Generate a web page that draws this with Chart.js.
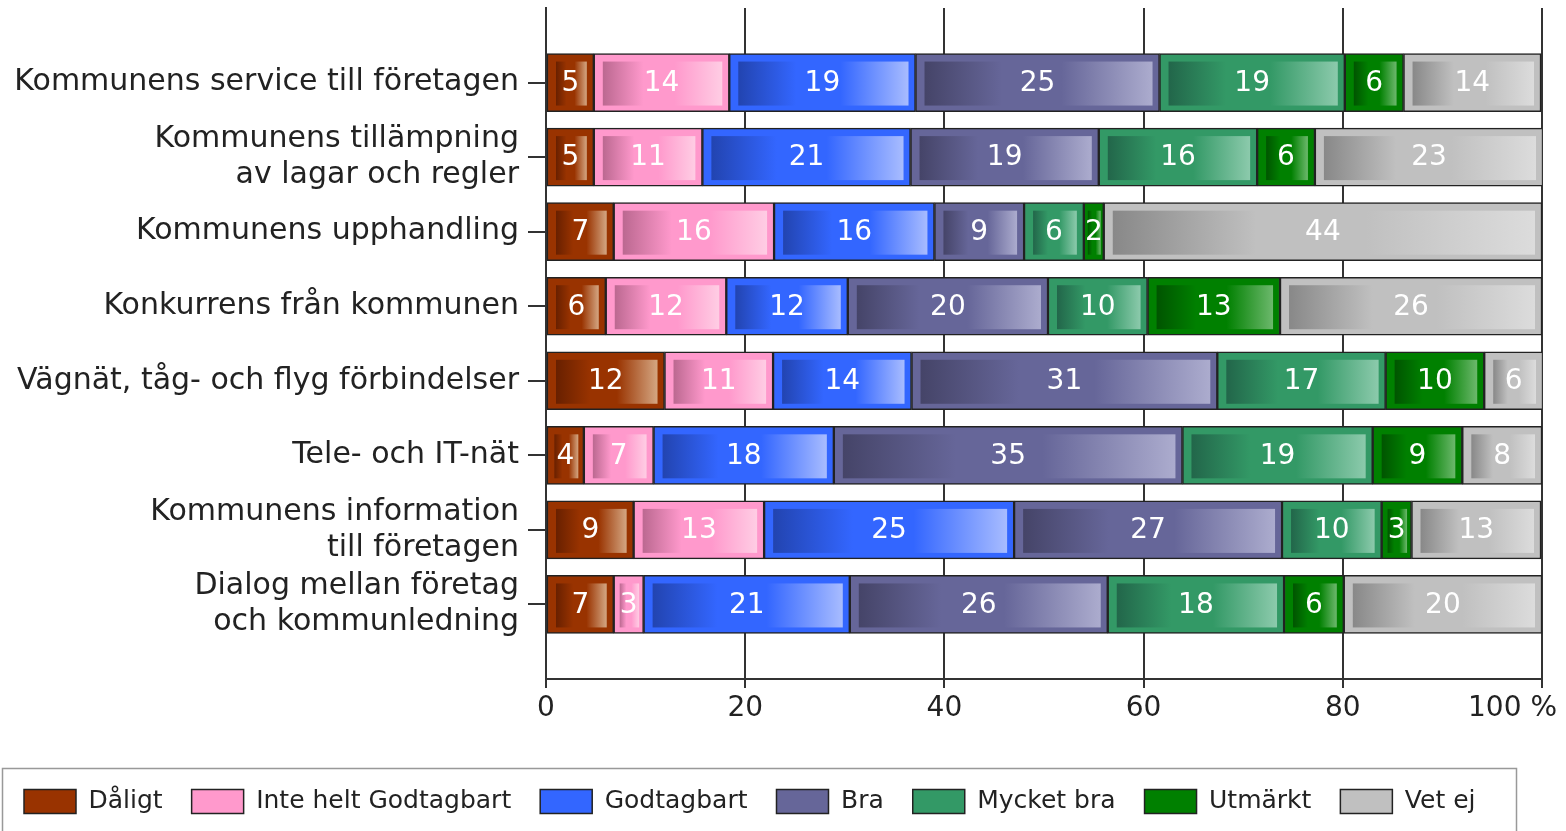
<!DOCTYPE html>
<html>
<head>
<meta charset="utf-8">
<title>Bedömning av kommunen</title>
<script src="https://cdn.jsdelivr.net/npm/chart.js@4.4.1/dist/chart.umd.min.js"></script>
<style>
  html, body { margin: 0; padding: 0; background: #fff; }
  canvas { display: block; }
</style>
</head>
<body>
<canvas id="chart" width="1566" height="831"></canvas>
<script>
const categories = [
  'Kommunens service till företagen',
  ['Kommunens tillämpning', 'av lagar och regler'],
  'Kommunens upphandling',
  'Konkurrens från kommunen',
  'Vägnät, tåg- och flyg förbindelser',
  'Tele- och IT-nät',
  ['Kommunens information', 'till företagen'],
  ['Dialog mellan företag', 'och kommunledning']
];

// percent per category (labels are rounded)
const daligt     = [4.8, 4.8, 6.8, 6.0, 11.9, 3.8, 8.8, 6.8];
const inteHelt   = [13.6, 10.9, 16.1, 12.1, 10.9, 7.0, 13.1, 3.0];
const godtagbart = [18.7, 20.9, 16.1, 12.2, 13.9, 18.1, 25.1, 20.7];
const bra        = [24.5, 18.9, 9.0, 20.1, 30.7, 35.0, 26.9, 25.9];
const mycketBra  = [18.6, 15.9, 6.0, 10.0, 16.9, 19.1, 10.0, 17.7];
const utmarkt    = [5.9, 5.8, 2.0, 13.3, 9.9, 9.0, 3.0, 6.0];
const vetEj      = [13.8, 22.9, 44.0, 26.3, 5.9, 8.0, 13.0, 19.9];

const seriesNames = ['Dåligt', 'Inte helt Godtagbart', 'Godtagbart', 'Bra', 'Mycket bra', 'Utmärkt', 'Vet ej'];
const seriesValues = [daligt, inteHelt, godtagbart, bra, mycketBra, utmarkt, vetEj];

const xTicks = [0, 20, 40, 60, 80, 100];

const baseColors  = ['#993300', '#ff99cc', '#3366ff', '#666699', '#339966', '#008000', '#c0c0c0'];
const darkColors  = ['#682000', '#bb6890', '#2244b0', '#454468', '#22664a', '#005400', '#888888'];
const lightColors = ['#d4a682', '#ffcde4', '#a8bcff', '#acacce', '#8ccaac', '#6cb86c', '#dcdcdc'];

const FONT = "'DejaVu Sans', 'Noto Sans', sans-serif";

// inner shaded panel + value label on every bar segment
const barFaces = {
  id: 'barFaces',
  afterDatasetsDraw(chart) {
    const ctx = chart.ctx;
    ctx.save();
    chart.data.datasets.forEach((ds, i) => {
      const meta = chart.getDatasetMeta(i);
      meta.data.forEach(bar => {
        const p = bar.getProps(['x', 'y', 'base', 'height'], true);
        const left = Math.min(p.x, p.base), right = Math.max(p.x, p.base);
        const w = right - left;
        const l = left + Math.min(9, w * 0.2);
        const r = right - Math.min(7, w * 0.15);
        const t = p.y - p.height / 2 + 8;
        const b = p.y + p.height / 2 - 6;
        const g = ctx.createLinearGradient(l, 0, r, 0);
        g.addColorStop(0, darkColors[i]);
        g.addColorStop(0.34, baseColors[i]);
        g.addColorStop(0.6, baseColors[i]);
        g.addColorStop(1, lightColors[i]);
        ctx.fillStyle = g;
        ctx.fillRect(l, t, r - l, b - t);
      });
    });
    ctx.fillStyle = '#fff';
    ctx.font = '28px ' + FONT;
    ctx.textAlign = 'center';
    ctx.textBaseline = 'middle';
    chart.data.datasets.forEach((ds, i) => {
      const meta = chart.getDatasetMeta(i);
      meta.data.forEach((bar, j) => {
        const p = bar.getProps(['x', 'y', 'base'], true);
        ctx.fillText(String(Math.round(ds.data[j].x)), (p.x + p.base) / 2, p.y + 1);
      });
    });
    ctx.restore();
  },
  afterDraw(chart) {
    const ctx = chart.ctx;
    const xs = chart.scales.x;
    const lg = chart.legend;
    ctx.save();
    // last x tick label sits inside the canvas
    ctx.fillStyle = '#222';
    ctx.font = '28px ' + FONT;
    ctx.textAlign = 'right';
    ctx.textBaseline = 'middle';
    ctx.fillText('100 %', xs.getPixelForValue(100) + 15, xs.top + 9 + 4 + 16.8);
    // frame round the legend
    ctx.strokeStyle = '#999';
    ctx.lineWidth = 1.5;
    ctx.strokeRect(2.5, lg.top + 8.5, 1514, 200);
    ctx.restore();
  }
};

new Chart(document.getElementById('chart'), {
  type: 'bar',
  data: {
    datasets: seriesNames.map((name, i) => ({
      label: name,
      data: seriesValues[i].map((v, j) => ({ x: v, y: j })),
      backgroundColor: baseColors[i],
      borderColor: '#222',
      borderWidth: 1.5,
      borderSkipped: false,
      barThickness: 58
    }))
  },
  options: {
    indexAxis: 'y',
    responsive: false,
    devicePixelRatio: 1,
    animation: false,
    layout: { padding: { top: 8, right: 24, bottom: 7, left: -5 } },
    scales: {
      x: {
        type: 'linear',
        stacked: true,
        min: 0,
        max: 100,
        afterFit: scale => {
          scale.height = 81;
          scale.paddingLeft = 0;
          scale.paddingRight = 0;
        },
        afterBuildTicks: scale => { scale.ticks = xTicks.map(v => ({ value: v })); },
        ticks: {
          callback: v => (v === 100 ? '' : v),
          color: '#222',
          padding: 4,
          font: { family: FONT, size: 28 }
        },
        grid: { color: '#333', lineWidth: 2, tickLength: 9 },
        border: { color: '#333', width: 2 }
      },
      y: {
        type: 'linear',
        stacked: true,
        reverse: true,
        offset: false,
        min: -1,
        max: 8,
        afterFit: scale => {
          scale.width = 551;
          scale.paddingTop = 0;
          scale.paddingBottom = 0;
        },
        afterBuildTicks: scale => { scale.ticks = categories.map((c, i) => ({ value: i })); },
        ticks: {
          callback: v => categories[v],
          color: '#222',
          padding: 9,
          font: { family: FONT, size: 30 }
        },
        grid: { offset: false, drawOnChartArea: false, color: '#333', lineWidth: 2, tickLength: 18 },
        border: { color: '#333', width: 2 }
      }
    },
    plugins: {
      tooltip: { enabled: false },
      legend: {
        position: 'bottom',
        align: 'start',
        labels: {
          boxWidth: 52,
          boxHeight: 24,
          padding: 29,
          color: '#222',
          font: { family: FONT, size: 25 }
        }
      }
    }
  },
  plugins: [barFaces]
});
</script>
</body>
</html>
